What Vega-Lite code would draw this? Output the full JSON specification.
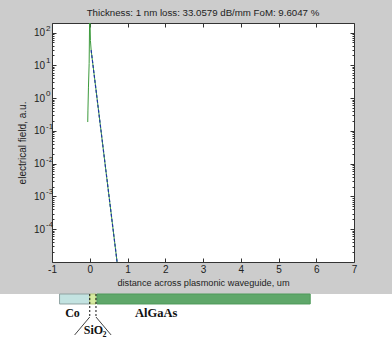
{
  "$schema": "https://vega.github.io/schema/vega-lite/v6.json",
  "width": 302,
  "height": 239,
  "autosize": {"type": "none"},
  "padding": {"left": 52, "top": 23, "right": 38, "bottom": 78},
  "background": "#cccccc",
  "title": {"text": "Thickness: 1 nm loss: 33.0579 dB/mm FoM: 9.6047 %", "font": "Liberation Sans", "fontSize": 9.7, "fontWeight": "normal", "color": "#222222", "offset": 5, "anchor": "middle"},
  "config": {
    "view": {"fill": "white", "stroke": "#333333", "strokeWidth": 1},
    "axis": {"labelFont": "Liberation Sans", "titleFont": "Liberation Sans", "labelFontSize": 10, "titleFontSize": 10, "titleFontWeight": "normal", "labelColor": "#222222", "titleColor": "#222222", "tickColor": "#333333", "domain": false, "grid": false, "labelFlush": false, "labelOverlap": false}
  },
  "datasets": {
    "field": [
      {"x": -0.053, "y": 0.186},
      {"x": -0.048, "y": 0.43},
      {"x": -0.034, "y": 2.16},
      {"x": -0.016, "y": 11.4},
      {"x": 0.0, "y": 600},
      {"x": 0.018, "y": 57},
      {"x": 0.037, "y": 29},
      {"x": 0.724, "y": 0.00001}
    ],
    "fit": [
      {"x": 0.037, "y": 29},
      {"x": 0.724, "y": 0.00001}
    ],
    "stack": [
      {"material": "Co", "start": -0.8, "end": 0.0},
      {"material": "SiO2", "start": 0.0, "end": 0.165},
      {"material": "AlGaAs", "start": 0.19, "end": 5.84}
    ]
  },
  "layer": [
    {
      "layer": [
        {
          "data": {"values": [{"region": "diagram"}]},
          "mark": {"type": "rect", "fill": "white"},
          "encoding": {
            "x": {"datum": -3, "type": "quantitative", "scale": {"domain": [-1, 7], "nice": false, "zero": false}, "axis": null},
            "x2": {"datum": 9},
            "y": {"datum": 0, "type": "quantitative", "scale": {"domain": [0, 1], "range": [271, 317], "nice": false, "zero": false}, "axis": null},
            "y2": {"datum": 1.1}
          }
        },
        {
          "data": {"name": "stack"},
          "mark": {"type": "rect", "strokeWidth": 1},
          "encoding": {
            "x": {"field": "start", "type": "quantitative", "scale": {"domain": [-1, 7], "nice": false, "zero": false}, "axis": null},
            "x2": {"field": "end"},
            "y": {"datum": 0, "type": "quantitative", "scale": {"domain": [0, 1], "range": [271, 317], "nice": false, "zero": false}, "axis": null},
            "y2": {"datum": 0.217},
            "fill": {"field": "material", "type": "nominal", "scale": {"domain": ["Co", "SiO2", "AlGaAs"], "range": ["#c3e3e1", "#d6eba0", "#5fa76a"]}, "legend": null},
            "stroke": {"field": "material", "type": "nominal", "scale": {"domain": ["Co", "SiO2", "AlGaAs"], "range": ["#8fa3a2", "#b5c97a", "#4f9a5a"]}, "legend": null}
          }
        },
        {
          "data": {"name": "stack"},
          "transform": [{"filter": "datum.material === 'SiO2'"}],
          "mark": {"type": "rule", "color": "#111111", "strokeDash": [2, 2], "strokeWidth": 1},
          "encoding": {
            "x": {"field": "start", "type": "quantitative", "scale": {"domain": [-1, 7], "nice": false, "zero": false}, "axis": null},
            "y": {"datum": 0, "type": "quantitative", "scale": {"domain": [0, 1], "range": [271, 317], "nice": false, "zero": false}, "axis": null},
            "y2": {"datum": 0.5}
          }
        },
        {
          "data": {"name": "stack"},
          "transform": [{"filter": "datum.material === 'SiO2'"}],
          "mark": {"type": "rule", "color": "#111111", "strokeDash": [2, 2], "strokeWidth": 1},
          "encoding": {
            "x": {"field": "end", "type": "quantitative", "scale": {"domain": [-1, 7], "nice": false, "zero": false}, "axis": null},
            "y": {"datum": 0, "type": "quantitative", "scale": {"domain": [0, 1], "range": [271, 317], "nice": false, "zero": false}, "axis": null},
            "y2": {"datum": 0.5}
          }
        },
        {
          "data": {"name": "stack"},
          "transform": [{"filter": "datum.material === 'SiO2'"}],
          "mark": {"type": "rule", "color": "#111111", "strokeWidth": 0.8},
          "encoding": {
            "x": {"field": "start", "type": "quantitative", "scale": {"domain": [-1, 7], "nice": false, "zero": false}, "axis": null},
            "x2": {"datum": -0.4},
            "y": {"datum": 0.5, "type": "quantitative", "scale": {"domain": [0, 1], "range": [271, 317], "nice": false, "zero": false}, "axis": null},
            "y2": {"datum": 0.89}
          }
        },
        {
          "data": {"name": "stack"},
          "transform": [{"filter": "datum.material === 'SiO2'"}],
          "mark": {"type": "rule", "color": "#111111", "strokeWidth": 0.8},
          "encoding": {
            "x": {"field": "end", "type": "quantitative", "scale": {"domain": [-1, 7], "nice": false, "zero": false}, "axis": null},
            "x2": {"datum": 0.565},
            "y": {"datum": 0.5, "type": "quantitative", "scale": {"domain": [0, 1], "range": [271, 317], "nice": false, "zero": false}, "axis": null},
            "y2": {"datum": 0.89}
          }
        },
        {
          "data": {"values": [{"label": "Co"}]},
          "mark": {"type": "text", "font": "Liberation Serif", "fontWeight": "bold", "fontSize": 12, "align": "center", "baseline": "alphabetic", "color": "#111111"},
          "encoding": {
            "x": {"datum": -0.457, "type": "quantitative", "scale": {"domain": [-1, 7], "nice": false, "zero": false}, "axis": null},
            "y": {"datum": 0.51, "type": "quantitative", "scale": {"domain": [0, 1], "range": [271, 317], "nice": false, "zero": false}, "axis": null},
            "text": {"field": "label"}
          }
        },
        {
          "data": {"values": [{"label": "AlGaAs"}]},
          "mark": {"type": "text", "font": "Liberation Serif", "fontWeight": "bold", "fontSize": 12.5, "align": "center", "baseline": "alphabetic", "color": "#111111"},
          "encoding": {
            "x": {"datum": 1.76, "type": "quantitative", "scale": {"domain": [-1, 7], "nice": false, "zero": false}, "axis": null},
            "y": {"datum": 0.51, "type": "quantitative", "scale": {"domain": [0, 1], "range": [271, 317], "nice": false, "zero": false}, "axis": null},
            "text": {"field": "label"}
          }
        },
        {
          "data": {"values": [{"label": "SiO"}]},
          "mark": {"type": "text", "font": "Liberation Serif", "fontWeight": "bold", "fontSize": 12, "align": "left", "baseline": "alphabetic", "color": "#111111"},
          "encoding": {
            "x": {"datum": -0.16, "type": "quantitative", "scale": {"domain": [-1, 7], "nice": false, "zero": false}, "axis": null},
            "y": {"datum": 0.876, "type": "quantitative", "scale": {"domain": [0, 1], "range": [271, 317], "nice": false, "zero": false}, "axis": null},
            "text": {"field": "label"}
          }
        },
        {
          "data": {"values": [{"label": "2"}]},
          "mark": {"type": "text", "font": "Liberation Serif", "fontWeight": "bold", "fontSize": 8, "align": "left", "baseline": "alphabetic", "color": "#111111"},
          "encoding": {
            "x": {"datum": 0.336, "type": "quantitative", "scale": {"domain": [-1, 7], "nice": false, "zero": false}, "axis": null},
            "y": {"datum": 0.935, "type": "quantitative", "scale": {"domain": [0, 1], "range": [271, 317], "nice": false, "zero": false}, "axis": null},
            "text": {"field": "label"}
          }
        }
      ]
    },
    {
      "layer": [
        {
          "data": {"name": "field"},
          "mark": {"type": "line", "color": "#3c9a3c", "strokeWidth": 1, "clip": true},
          "encoding": {
            "x": {"field": "x", "type": "quantitative", "scale": {"domain": [-1, 7], "nice": false, "zero": false},
              "axis": {"orient": "bottom", "values": [-1, 0, 1, 2, 3, 4, 5, 6, 7], "labelExpr": "'' + datum.value", "tickSize": -4, "labelPadding": 6.5, "title": "distance across plasmonic waveguide, um", "titleFontSize": 9.2, "titlePadding": 4}},
            "y": {"field": "y", "type": "quantitative", "scale": {"type": "log", "domain": [0.00001, 195], "nice": false},
              "axis": {"orient": "left", "values": [0.0001, 0.001, 0.01, 0.1, 1, 10, 100], "tickSize": -4, "labelExpr": "'10'", "labelPadding": 11.5, "title": "electrical field, a.u.", "titlePadding": 6}}
          }
        },
        {
          "data": {"name": "fit"},
          "mark": {"type": "line", "color": "#1f36a8", "strokeDash": [3, 2], "strokeWidth": 1.2, "clip": true},
          "encoding": {
            "x": {"field": "x", "type": "quantitative", "scale": {"domain": [-1, 7], "nice": false, "zero": false},
              "axis": {"orient": "top", "values": [-1, 0, 1, 2, 3, 4, 5, 6, 7], "tickSize": -4, "labels": false, "title": null}},
            "y": {"field": "y", "type": "quantitative", "scale": {"type": "log", "domain": [0.00001, 195], "nice": false},
              "axis": {"orient": "right", "values": [0.0001, 0.001, 0.01, 0.1, 1, 10, 100], "tickSize": -4, "labels": false, "title": null}}
          }
        },
        {
          "data": {"name": "fit"},
          "mark": {"type": "point", "opacity": 0, "clip": true},
          "encoding": {
            "x": {"field": "x", "type": "quantitative", "scale": {"domain": [-1, 7], "nice": false, "zero": false}, "axis": null},
            "y": {"field": "y", "type": "quantitative", "scale": {"type": "log", "domain": [0.00001, 195], "nice": false},
              "axis": {"orient": "left", "values": [0.0001, 0.001, 0.01, 0.1, 1, 10, 100], "ticks": false, "labelExpr": "'' + round(log(datum.value) / LN10)", "labelAlign": "left", "labelPadding": 6.5, "labelFontSize": 8, "labelOffset": -4.5, "title": null}}
          }
        },
        {
          "data": {"name": "fit"},
          "mark": {"type": "point", "opacity": 0, "clip": true},
          "encoding": {
            "x": {"field": "x", "type": "quantitative", "scale": {"domain": [-1, 7], "nice": false, "zero": false}, "axis": null},
            "y": {"field": "y", "type": "quantitative", "scale": {"type": "log", "domain": [0.00001, 195], "nice": false},
              "axis": {"orient": "left", "values": [0.00002, 0.00003, 0.00004, 0.00005, 0.00006, 0.00007, 0.00008, 0.00009, 0.0002, 0.0003, 0.0004, 0.0005, 0.0006, 0.0007, 0.0008, 0.0009, 0.002, 0.003, 0.004, 0.005, 0.006, 0.007, 0.008, 0.009, 0.02, 0.03, 0.04, 0.05, 0.06, 0.07, 0.08, 0.09, 0.2, 0.3, 0.4, 0.5, 0.6, 0.7, 0.8, 0.9, 2, 3, 4, 5, 6, 7, 8, 9, 20, 30, 40, 50, 60, 70, 80, 90], "tickSize": -2, "labels": false, "title": null}}
          }
        },
        {
          "data": {"name": "fit"},
          "mark": {"type": "point", "opacity": 0, "clip": true},
          "encoding": {
            "x": {"field": "x", "type": "quantitative", "scale": {"domain": [-1, 7], "nice": false, "zero": false}, "axis": null},
            "y": {"field": "y", "type": "quantitative", "scale": {"type": "log", "domain": [0.00001, 195], "nice": false},
              "axis": {"orient": "right", "values": [0.00002, 0.00003, 0.00004, 0.00005, 0.00006, 0.00007, 0.00008, 0.00009, 0.0002, 0.0003, 0.0004, 0.0005, 0.0006, 0.0007, 0.0008, 0.0009, 0.002, 0.003, 0.004, 0.005, 0.006, 0.007, 0.008, 0.009, 0.02, 0.03, 0.04, 0.05, 0.06, 0.07, 0.08, 0.09, 0.2, 0.3, 0.4, 0.5, 0.6, 0.7, 0.8, 0.9, 2, 3, 4, 5, 6, 7, 8, 9, 20, 30, 40, 50, 60, 70, 80, 90], "tickSize": -2, "labels": false, "title": null}}
          }
        }
      ],
      "resolve": {"axis": {"x": "independent", "y": "independent"}}
    }
  ],
  "resolve": {"scale": {"x": "independent", "y": "independent"}}
}
